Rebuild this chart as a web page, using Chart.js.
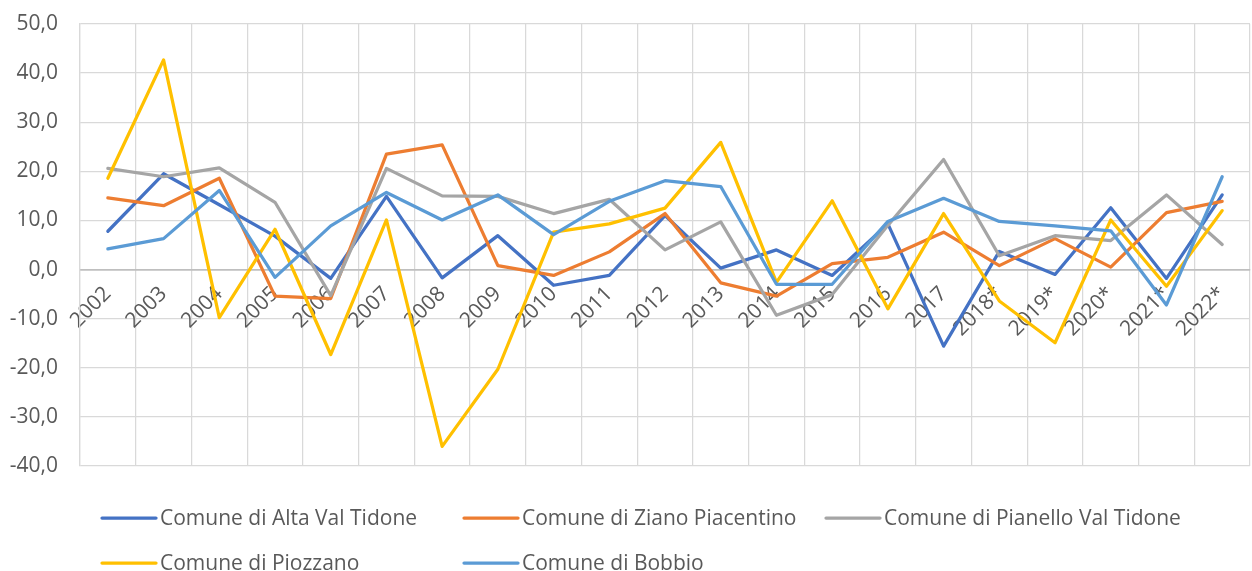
<!DOCTYPE html>
<html>
<head>
<meta charset="utf-8">
<script src="https://cdn.jsdelivr.net/npm/chart.js@4/dist/chart.umd.min.js"></script>
<style>
html,body{margin:0;padding:0;background:#ffffff;}
#wrap{width:1252px;height:571px;position:relative;}
</style>
</head>
<body>
<div id="wrap"><canvas id="c" width="1252" height="571"></canvas></div>
<script>
const categories = ['2002','2003','2004','2005','2006','2007','2008','2009','2010','2011','2012','2013','2014','2015','2016','2017','2018*','2019*','2020*','2021*','2022*'];

const seriesNames = ['Comune di Alta Val Tidone','Comune di Ziano Piacentino','Comune di Pianello Val Tidone','Comune di Piozzano','Comune di Bobbio'];

const altaValTidone   = [7.8, 19.5, 13.2, 6.8, -1.8, 14.9, -1.7, 6.9, -3.2, -1.2, 11.0, 0.3, 4.0, -1.2, 9.3, -15.6, 3.7, -1.0, 12.6, -1.8, 15.2];
const zianoPiacentino = [14.6, 13.0, 18.6, -5.4, -5.9, 23.5, 25.4, 0.8, -1.2, 3.6, 11.4, -2.7, -5.4, 1.2, 2.5, 7.6, 0.8, 6.3, 0.5, 11.6, 13.9];
const pianelloValTidone = [20.6, 18.9, 20.7, 13.7, -5.3, 20.6, 15.0, 14.9, 11.4, 14.3, 4.0, 9.7, -9.3, -5.1, 9.0, 22.4, 2.8, 6.9, 5.9, 15.2, 5.1];
const piozzano        = [18.6, 42.7, -9.8, 8.2, -17.3, 10.1, -36.0, -20.3, 7.6, 9.3, 12.5, 25.9, -2.6, 14.0, -8.0, 11.4, -6.4, -14.9, 10.1, -3.4, 12.0];
const bobbio          = [4.2, 6.3, 16.1, -1.6, 8.9, 15.7, 10.1, 15.2, 7.1, 13.9, 18.1, 16.9, -3.0, -3.0, 9.8, 14.5, 9.8, 8.9, 7.9, -7.2, 18.9];

const yTicks = [-40, -30, -20, -10, 0, 10, 20, 30, 40, 50];

const seriesValues = [altaValTidone, zianoPiacentino, pianelloValTidone, piozzano, bobbio];
const seriesColors = ['#4472C4', '#ED7D31', '#A5A5A5', '#FFC000', '#5B9BD5'];

const FONT = '"Open Sans", "DejaVu Sans", sans-serif';
const FONT_SIZE = 21;
const TEXT_COLOR = '#595959';

const legendPlugin = {
  id: 'excelLegend',
  afterDraw(chart) {
    const ctx = chart.ctx;
    const cols = [102, 464, 826];
    const rows = [518, 563];
    chart.data.datasets.forEach((ds, i) => {
      const x = cols[i % 3];
      const y = rows[Math.floor(i / 3)];
      ctx.save();
      ctx.strokeStyle = ds.borderColor;
      ctx.lineWidth = 3.25;
      ctx.lineCap = 'round';
      ctx.beginPath();
      ctx.moveTo(x, y);
      ctx.lineTo(x + 54, y);
      ctx.stroke();
      ctx.fillStyle = TEXT_COLOR;
      ctx.font = FONT_SIZE + 'px ' + FONT;
      ctx.textBaseline = 'middle';
      ctx.textAlign = 'left';
      ctx.fillText(ds.label, x + 58, y + 1);
      ctx.restore();
    });
  }
};

const datasets = seriesNames.map((name, i) => ({
  label: name,
  data: seriesValues[i],
  borderColor: seriesColors[i],
  backgroundColor: seriesColors[i],
  borderWidth: 3.25,
  pointRadius: 0,
  pointHoverRadius: 0,
  tension: 0,
  fill: false,
  borderJoinStyle: 'round',
  borderCapStyle: 'round',
  order: seriesNames.length - i
}));

new Chart(document.getElementById('c'), {
  type: 'line',
  data: { labels: categories, datasets },
  options: {
    responsive: false,
    animation: false,
    devicePixelRatio: 1,
    layout: { padding: { top: 24, bottom: 105, left: 0, right: 0 } },
    plugins: {
      legend: { display: false },
      tooltip: { enabled: false }
    },
    scales: {
      x: {
        type: 'category',
        position: { y: 0 },
        offset: true,
        grid: { offset: true, color: '#D9D9D9', lineWidth: 1.25, drawTicks: false },
        border: { display: true, color: '#BFBFBF', width: 1.5 },
        ticks: {
          autoSkip: false,
          maxRotation: 45,
          minRotation: 45,
          padding: 12,
          color: TEXT_COLOR,
          font: { family: FONT, size: FONT_SIZE }
        }
      },
      y: {
        min: -40,
        max: 50,
        afterBuildTicks(scale) { scale.ticks = yTicks.map(v => ({ value: v })); },
        afterFit(scale) { scale.width = 80; },
        grid: {
          color: ctx => (ctx.tick && ctx.tick.value === 0 ? '#BFBFBF' : '#D9D9D9'),
          lineWidth: ctx => (ctx.tick && ctx.tick.value === 0 ? 1.5 : 1.25),
          drawTicks: true,
          tickLength: 22,
          tickColor: 'rgba(0,0,0,0)'
        },
        border: { display: true, color: '#D9D9D9', width: 1.25 },
        ticks: {
          padding: 0,
          color: TEXT_COLOR,
          font: { family: FONT, size: FONT_SIZE },
          callback: v => v.toFixed(1).replace('.', ',')
        }
      }
    }
  },
  plugins: [legendPlugin]
});
</script>
</body>
</html>
